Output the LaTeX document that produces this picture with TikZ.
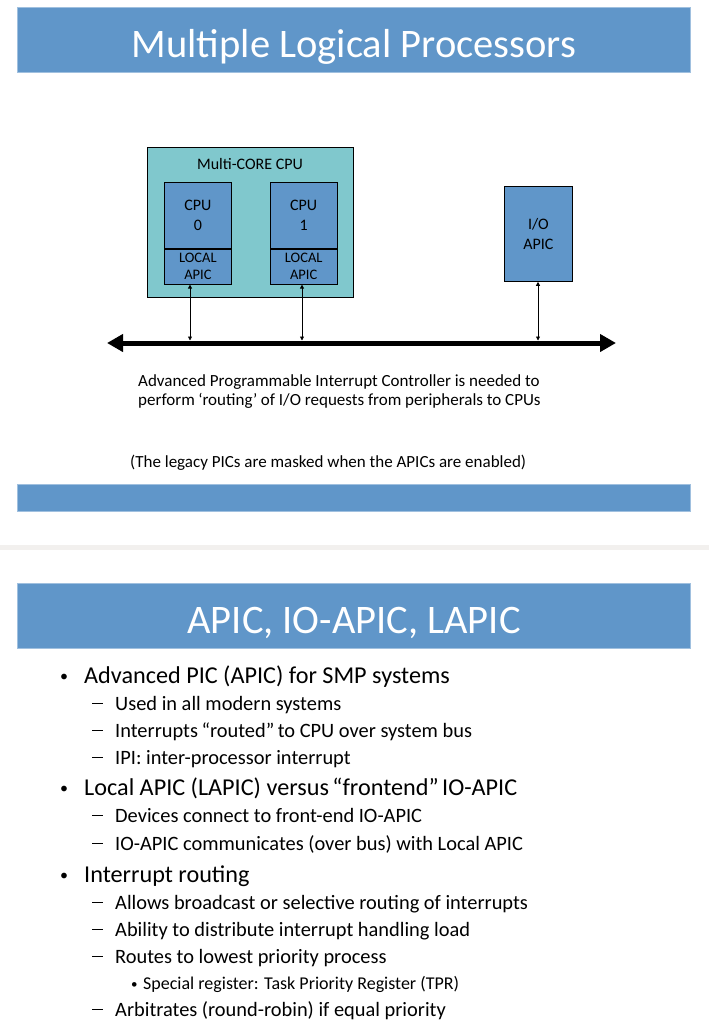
\documentclass[tikz,border=0pt]{standalone}
\usepackage{fontspec}
\setmainfont{Carlito}
\usetikzlibrary{arrows.meta,positioning}
\definecolor{bandblue}{RGB}{96,150,201}
\definecolor{coreteal}{RGB}{128,200,205}
\definecolor{sepgray}{RGB}{242,240,238}
\newcommand{\topbullet}{\makebox[24pt][l]{\raisebox{1.5pt}{\fontsize{16}{16}\selectfont •}}}
\newcommand{\subdash}{\makebox[23pt][l]{\rule[0.3em]{11pt}{1.2pt}}}
\newcommand{\subbullet}{\makebox[12pt][l]{\raisebox{1pt}{\fontsize{13}{13}\selectfont •}}}
\newcommand{\wideq}[1]{\hspace{3.5pt}#1\hspace{3.5pt}}
\tikzset{
  band/.style={fill=bandblue, draw=bandblue!60!white, line width=0.6, inner sep=0, minimum width=673, anchor=north west},
  titletext/.style={text=white, inner sep=0, anchor=base, font=\fontsize{40.5}{48}\selectfont},
  corebox/.style={draw, fill=coreteal, line width=0.8, inner sep=0, anchor=north west, minimum width=206, minimum height=150},
  cpubox/.style={draw, fill=bandblue, line width=0.8, inner sep=0, minimum width=67, align=center, font=\fontsize{16}{20}\selectfont},
  apicbox/.style={cpubox, minimum height=35, font=\fontsize{14.5}{17}\selectfont},
  boxlabel/.style={inner sep=0, anchor=base, font=\fontsize{16}{20}\selectfont},
  bodytext/.style={inner sep=0, anchor=base west, font=\fontsize{17}{20}\selectfont},
  bus/.style={line width=5, {Triangle[width=17,length=16]}-{Triangle[width=17,length=16]}},
  tap/.style={line width=0.8, {Triangle[width=4,length=4]}-{Triangle[width=4,length=4]}},
  lvlone/.style={inner sep=0, anchor=base west, font=\fontsize{24.2}{29}\selectfont},
  lvltwo/.style={inner sep=0, anchor=base west, font=\fontsize{20.4}{24}\selectfont},
  lvlthree/.style={inner sep=0, anchor=base west, font=\fontsize{18}{22}\selectfont}
}
\begin{document}
\begin{tikzpicture}[x=1pt,y=-1pt]
\useasboundingbox[fill=white] (0,0) rectangle (709,1020);
% slide 1
\node[band, minimum height=65] (titleA) at (17,7){};
\node[titletext] (titleAtext) at (354,57){Multiple Logical Processors};
\node[corebox] (multicore) at (147,147){};
\node[boxlabel] (mclabel) at (250,169){Multi-CORE CPU};
\node[cpubox, anchor=north west, minimum height=66] (cpu0) at (164,182){CPU\\0};
\node[apicbox, below=0pt of cpu0] (lapic0){LOCAL\\APIC};
\node[cpubox, minimum height=66, right=38pt of cpu0] (cpu1){CPU\\1};
\node[apicbox, below=0pt of cpu1] (lapic1){LOCAL\\APIC};
\node[cpubox, anchor=north west, minimum width=68, minimum height=95] (ioapic) at (504,186){I/O\\APIC};
\coordinate (busL) at (107,343);
\coordinate (busR) at (616,343);
\draw[bus](busL) -- (busR);
\coordinate (tap0) at (190,340.5);
\coordinate (tap1) at (302,340.5);
\coordinate (tapio) at (538,340.5);
\draw[tap](tap0) -- (tap0 |- lapic0.south);
\draw[tap](tap1) -- (tap1 |- lapic1.south);
\draw[tap](tapio) -- (tapio |- ioapic.south);
\node[bodytext] (note1) at (138,386){Advanced Programmable Interrupt Controller is needed to};
\node[bodytext] (note2) at (138,405){perform\wideq{‘routing’}of I/O requests from peripherals to CPUs};
\node[bodytext] (legacy) at (130,467){(The legacy PICs are masked when the APICs are enabled)};
\node[band, minimum height=27] (footA) at (17,484){};
% separator between slides
\fill[sepgray] (0,545) rectangle (709,550);
% slide 2
\node[band, minimum height=65] (titleB) at (17,583){};
\node[titletext] (titleBtext) at (354,633){APIC, IO-APIC, LAPIC};
\node[lvlone] (b1) at (60,683){\topbullet Advanced PIC (APIC) for SMP systems};
\node[lvltwo] (b11) at (92,710){\subdash Used in all modern systems};
\node[lvltwo] (b12) at (92,737){\subdash Interrupts\wideq{“routed”}to CPU over system bus};
\node[lvltwo] (b13) at (92,764){\subdash IPI: inter-processor interrupt};
\node[lvlone] (b2) at (60,795){\topbullet Local APIC (LAPIC) versus\wideq{“frontend”}IO-APIC};
\node[lvltwo] (b21) at (92,822){\subdash Devices connect to front-end IO-APIC};
\node[lvltwo] (b22) at (92,850){\subdash IO-APIC communicates (over bus) with Local APIC};
\node[lvlone] (b3) at (60,882){\topbullet Interrupt routing};
\node[lvltwo] (b31) at (92,909){\subdash Allows broadcast or selective routing of interrupts};
\node[lvltwo] (b32) at (92,936){\subdash Ability to distribute interrupt handling load};
\node[lvltwo] (b33) at (92,963){\subdash Routes to lowest priority process};
\node[lvlthree] (b331) at (131,989){\subbullet Special register: Task Priority Register (TPR)};
\node[lvltwo] (b34) at (92,1016){\subdash Arbitrates (round-robin) if equal priority};
\end{tikzpicture}
\end{document}
